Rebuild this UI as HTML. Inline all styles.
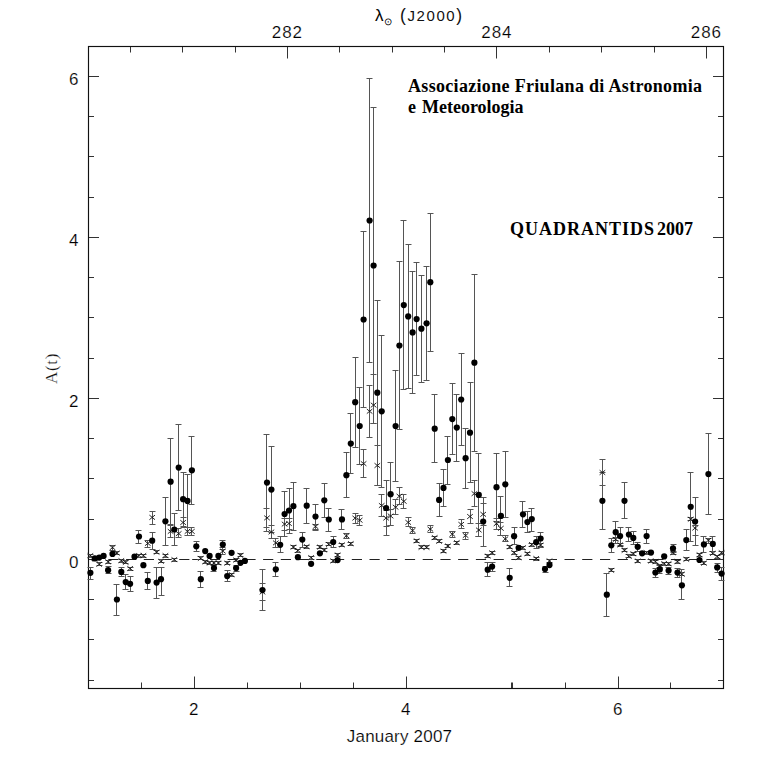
<!DOCTYPE html>
<html><head><meta charset="utf-8"><style>
html,body{margin:0;padding:0;background:#fff;}
svg{display:block;font-family:"Liberation Sans",sans-serif;}
.thin{stroke:#fff;stroke-width:0.18px;paint-order:fill;}
</style></head><body>
<svg width="764" height="770" viewBox="0 0 764 770">
<rect width="764" height="770" fill="#fff"/>
<path d="M141.5 688.5V682.5M194.5 688.5V676.5M247.5 688.5V682.5M300.5 688.5V682.5M353.5 688.5V682.5M406.5 688.5V676.5M511.5 688.5V682.5M512.5 688.5V682.5M565.5 688.5V682.5M618.5 688.5V676.5M670.5 688.5V682.5M130.5 46.5V52.5M182.5 46.5V52.5M235.5 46.5V52.5M287.5 46.5V58.5M339.5 46.5V52.5M392.5 46.5V52.5M444.5 46.5V52.5M496.5 46.5V58.5M549.5 46.5V52.5M601.5 46.5V52.5M654.5 46.5V52.5M706.5 46.5V58.5M88.5 680.5H94.0M723.5 680.5H718.0M88.5 639.5H94.0M723.5 639.5H718.0M88.5 599.5H94.0M723.5 599.5H718.0M88.5 559.5H99.0M723.5 559.5H713.0M88.5 519.5H94.0M723.5 519.5H718.0M88.5 478.5H94.0M723.5 478.5H718.0M88.5 438.5H94.0M723.5 438.5H718.0M88.5 398.5H99.0M723.5 398.5H713.0M88.5 358.5H94.0M723.5 358.5H718.0M88.5 317.5H94.0M723.5 317.5H718.0M88.5 277.5H94.0M723.5 277.5H718.0M88.5 237.5H99.0M723.5 237.5H713.0M88.5 197.5H94.0M723.5 197.5H718.0M88.5 156.5H94.0M723.5 156.5H718.0M88.5 116.5H94.0M723.5 116.5H718.0M88.5 76.5H99.0M723.5 76.5H713.0" stroke="#333" stroke-width="1" fill="none"/>
<rect x="88.5" y="46.5" width="635.0" height="642.0" fill="none" stroke="#111" stroke-width="1.15"/>
<path d="M90.6 559.5H100.8M108.3 559.5H118.5M126.1 559.5H136.3M143.8 559.5H154.0M161.5 559.5H171.7M179.2 559.5H189.4M192.2 559.5H202.4M209.9 559.5H220.1M227.6 559.5H237.8M245.4 559.5H255.6M263.1 559.5H273.3M280.8 559.5H291.0M298.6 559.5H308.8M316.3 559.5H326.5M334.0 559.5H344.2M351.8 559.5H362.0M369.5 559.5H379.7M387.2 559.5H397.4M404.9 559.5H415.1M422.7 559.5H432.9M440.4 559.5H450.6M458.1 559.5H468.3M475.9 559.5H486.1M493.6 559.5H503.8M511.3 559.5H521.5M529.1 559.5H539.3M546.8 559.5H557.0M564.5 559.5H574.7M582.2 559.5H592.4M600.0 559.5H610.2M617.7 559.5H627.9M635.4 559.5H645.6M653.2 559.5H663.4M670.9 559.5H681.1M688.6 559.5H698.8M706.4 559.5H716.6" stroke="#222" stroke-width="1" fill="none"/>
<text class="thin" x="193.7" y="715" text-anchor="middle" font-size="17" >2</text>
<text class="thin" x="405.7" y="715" text-anchor="middle" font-size="17" >4</text>
<text class="thin" x="617.7" y="715" text-anchor="middle" font-size="17" >6</text>
<text class="thin" x="287.4" y="38" text-anchor="middle" font-size="17" letter-spacing="1">282</text>
<text class="thin" x="496.9" y="38" text-anchor="middle" font-size="17" letter-spacing="1">284</text>
<text class="thin" x="706.4" y="38" text-anchor="middle" font-size="17" letter-spacing="1">286</text>
<text class="thin" x="78.5" y="85.0" text-anchor="end" font-size="17" >6</text>
<text class="thin" x="78.5" y="246.0" text-anchor="end" font-size="17" >4</text>
<text class="thin" x="78.5" y="407.0" text-anchor="end" font-size="17" >2</text>
<text class="thin" x="78.5" y="568.0" text-anchor="end" font-size="17" >0</text>
<text class="thin" x="399.5" y="742" text-anchor="middle" font-size="17" letter-spacing="0.2">January 2007</text>
<text class="thin" x="0" y="0" text-anchor="middle" font-size="17" font-family="Liberation Serif" letter-spacing="0.7" fill="#111" transform="translate(57,368.5) rotate(-90)">A(t)</text>
<text x="375" y="21" font-size="17">λ</text>
<text x="383.5" y="25" font-size="10">⊙</text>
<text x="400" y="20.8" font-size="15" letter-spacing="1.6" fill="#111"><tspan font-size="17.5">(</tspan>J2000<tspan font-size="17.5">)</tspan></text>
<g font-family="Liberation Serif" font-weight="bold" font-size="18"><text x="408" y="92" letter-spacing="0.32">Associazione Friulana di Astronomia</text><text x="408" y="112.5" word-spacing="1.5">e Meteorologia</text><text x="510" y="235" letter-spacing="1.0">QUADRANTIDS</text><text x="657" y="235">2007</text></g>
<path d="M90.5 554.5V557.5M87.5 554.5H93.5M87.5 557.5H93.5M94.5 557.5V560.5M91.5 557.5H97.5M91.5 560.5H97.5M99.5 562.5V565.5M96.5 562.5H102.5M96.5 565.5H102.5M108.5 560.5V563.5M105.5 560.5H111.5M105.5 563.5H111.5M112.5 545.5V550.5M109.5 545.5H115.5M109.5 550.5H115.5M116.5 551.5V554.5M113.5 551.5H119.5M113.5 554.5H119.5M121.5 559.5V562.5M118.5 559.5H124.5M118.5 562.5H124.5M125.5 560.5V563.5M122.5 560.5H128.5M122.5 563.5H128.5M130.5 567.5V570.5M127.5 567.5H133.5M127.5 570.5H133.5M138.5 554.5V557.5M135.5 554.5H141.5M135.5 557.5H141.5M143.5 554.5V557.5M140.5 554.5H146.5M140.5 557.5H146.5M147.5 540.5V547.5M144.5 540.5H150.5M144.5 547.5H150.5M152.5 511.5V524.5M149.5 511.5H155.5M149.5 524.5H155.5M156.5 550.5V553.5M153.5 550.5H159.5M153.5 553.5H159.5M161.5 559.5V562.5M158.5 559.5H164.5M158.5 562.5H164.5M165.5 554.5V557.5M162.5 554.5H168.5M162.5 557.5H168.5M170.5 524.5V537.5M167.5 524.5H173.5M167.5 537.5H173.5M174.5 558.5V561.5M171.5 558.5H177.5M171.5 561.5H177.5M178.5 528.5V537.5M175.5 528.5H181.5M175.5 537.5H181.5M183.5 517.5V527.5M180.5 517.5H186.5M180.5 527.5H186.5M187.5 527.5V535.5M184.5 527.5H190.5M184.5 535.5H190.5M191.5 527.5V535.5M188.5 527.5H194.5M188.5 535.5H194.5M200.5 556.5V559.5M197.5 556.5H203.5M197.5 559.5H203.5M205.5 560.5V563.5M202.5 560.5H208.5M202.5 563.5H208.5M209.5 561.5V564.5M206.5 561.5H212.5M206.5 564.5H212.5M213.5 561.5V564.5M210.5 561.5H216.5M210.5 564.5H216.5M218.5 561.5V564.5M215.5 561.5H221.5M215.5 564.5H221.5M222.5 547.5V554.5M219.5 547.5H225.5M219.5 554.5H225.5M227.5 561.5V564.5M224.5 561.5H230.5M224.5 564.5H230.5M231.5 573.5V576.5M228.5 573.5H234.5M228.5 576.5H234.5M236.5 558.5V561.5M233.5 558.5H239.5M233.5 561.5H239.5M240.5 553.5V556.5M237.5 553.5H243.5M237.5 556.5H243.5M262.5 583.5V600.5M259.5 583.5H265.5M259.5 600.5H265.5M266.5 508.5V527.5M263.5 508.5H269.5M263.5 527.5H269.5M271.5 525.5V538.5M268.5 525.5H274.5M268.5 538.5H274.5M275.5 538.5V547.5M272.5 538.5H278.5M272.5 547.5H278.5M284.5 518.5V530.5M281.5 518.5H287.5M281.5 530.5H287.5M289.5 518.5V529.5M286.5 518.5H292.5M286.5 529.5H292.5M293.5 545.5V548.5M290.5 545.5H296.5M290.5 548.5H296.5M297.5 549.5V552.5M294.5 549.5H300.5M294.5 552.5H300.5M306.5 545.5V548.5M303.5 545.5H309.5M303.5 548.5H309.5M311.5 556.5V559.5M308.5 556.5H314.5M308.5 559.5H314.5M315.5 524.5V530.5M312.5 524.5H318.5M312.5 530.5H318.5M319.5 545.5V548.5M316.5 545.5H322.5M316.5 548.5H322.5M324.5 548.5V551.5M321.5 548.5H327.5M321.5 551.5H327.5M328.5 542.5V545.5M325.5 542.5H331.5M325.5 545.5H331.5M333.5 559.5V562.5M330.5 559.5H336.5M330.5 562.5H336.5M337.5 553.5V556.5M334.5 553.5H340.5M334.5 556.5H340.5M341.5 543.5V546.5M338.5 543.5H344.5M338.5 546.5H344.5M346.5 533.5V538.5M343.5 533.5H349.5M343.5 538.5H349.5M350.5 542.5V545.5M347.5 542.5H353.5M347.5 545.5H353.5M355.5 513.5V523.5M352.5 513.5H358.5M352.5 523.5H358.5M359.5 515.5V525.5M356.5 515.5H362.5M356.5 525.5H362.5M363.5 449.5V477.5M360.5 449.5H366.5M360.5 477.5H366.5M369.5 385.5V437.5M366.5 385.5H372.5M366.5 437.5H372.5M373.5 374.5V423.5M370.5 374.5H376.5M370.5 423.5H376.5M377.5 445.5V485.5M374.5 445.5H380.5M374.5 485.5H380.5M381.5 494.5V516.5M378.5 494.5H384.5M378.5 516.5H384.5M386.5 510.5V526.5M383.5 510.5H389.5M383.5 526.5H389.5M390.5 509.5V525.5M387.5 509.5H393.5M387.5 525.5H393.5M395.5 499.5V514.5M392.5 499.5H398.5M392.5 514.5H398.5M399.5 487.5V504.5M396.5 487.5H402.5M396.5 504.5H402.5M403.5 494.5V508.5M400.5 494.5H406.5M400.5 508.5H406.5M408.5 517.5V526.5M405.5 517.5H411.5M405.5 526.5H411.5M412.5 527.5V533.5M409.5 527.5H415.5M409.5 533.5H415.5M416.5 539.5V542.5M413.5 539.5H419.5M413.5 542.5H419.5M421.5 545.5V548.5M418.5 545.5H424.5M418.5 548.5H424.5M426.5 545.5V548.5M423.5 545.5H429.5M423.5 548.5H429.5M430.5 525.5V532.5M427.5 525.5H433.5M427.5 532.5H433.5M434.5 536.5V539.5M431.5 536.5H437.5M431.5 539.5H437.5M439.5 539.5V542.5M436.5 539.5H442.5M436.5 542.5H442.5M443.5 549.5V552.5M440.5 549.5H446.5M440.5 552.5H446.5M447.5 544.5V547.5M444.5 544.5H450.5M444.5 547.5H450.5M452.5 531.5V537.5M449.5 531.5H455.5M449.5 537.5H455.5M456.5 541.5V544.5M453.5 541.5H459.5M453.5 544.5H459.5M461.5 519.5V528.5M458.5 519.5H464.5M458.5 528.5H464.5M465.5 532.5V539.5M462.5 532.5H468.5M462.5 539.5H468.5M470.5 509.5V523.5M467.5 509.5H473.5M467.5 523.5H473.5M474.5 480.5V506.5M471.5 480.5H477.5M471.5 506.5H477.5M478.5 523.5V536.5M475.5 523.5H481.5M475.5 536.5H481.5M483.5 503.5V525.5M480.5 503.5H486.5M480.5 525.5H486.5M487.5 554.5V557.5M484.5 554.5H490.5M484.5 557.5H490.5M492.5 551.5V554.5M489.5 551.5H495.5M489.5 554.5H495.5M496.5 518.5V529.5M493.5 518.5H499.5M493.5 529.5H499.5M500.5 522.5V535.5M497.5 522.5H503.5M497.5 535.5H503.5M505.5 535.5V541.5M502.5 535.5H508.5M502.5 541.5H508.5M509.5 545.5V548.5M506.5 545.5H512.5M506.5 548.5H512.5M514.5 551.5V554.5M511.5 551.5H517.5M511.5 554.5H517.5M518.5 556.5V559.5M515.5 556.5H521.5M515.5 559.5H521.5M522.5 546.5V549.5M519.5 546.5H525.5M519.5 549.5H525.5M527.5 552.5V555.5M524.5 552.5H530.5M524.5 555.5H530.5M531.5 543.5V546.5M528.5 543.5H534.5M528.5 546.5H534.5M536.5 557.5V560.5M533.5 557.5H539.5M533.5 560.5H539.5M540.5 543.5V546.5M537.5 543.5H543.5M537.5 546.5H543.5M549.5 559.5V562.5M546.5 559.5H552.5M546.5 562.5H552.5M602.5 459.5V485.5M599.5 459.5H605.5M599.5 485.5H605.5M611.5 568.5V571.5M608.5 568.5H614.5M608.5 571.5H614.5M615.5 537.5V540.5M612.5 537.5H618.5M612.5 540.5H618.5M620.5 543.5V546.5M617.5 543.5H623.5M617.5 546.5H623.5M624.5 548.5V551.5M621.5 548.5H627.5M621.5 551.5H627.5M628.5 554.5V557.5M625.5 554.5H631.5M625.5 557.5H631.5M633.5 552.5V555.5M630.5 552.5H636.5M630.5 555.5H636.5M637.5 559.5V562.5M634.5 559.5H640.5M634.5 562.5H640.5M646.5 551.5V554.5M643.5 551.5H649.5M643.5 554.5H649.5M650.5 559.5V562.5M647.5 559.5H653.5M647.5 562.5H653.5M655.5 560.5V563.5M652.5 560.5H658.5M652.5 563.5H658.5M659.5 564.5V567.5M656.5 564.5H662.5M656.5 567.5H662.5M664.5 562.5V565.5M661.5 562.5H667.5M661.5 565.5H667.5M668.5 562.5V565.5M665.5 562.5H671.5M665.5 565.5H671.5M673.5 551.5V554.5M670.5 551.5H676.5M670.5 554.5H676.5M677.5 560.5V563.5M674.5 560.5H680.5M674.5 563.5H680.5M681.5 572.5V575.5M678.5 572.5H684.5M678.5 575.5H684.5M686.5 557.5V560.5M683.5 557.5H689.5M683.5 560.5H689.5M690.5 517.5V520.5M687.5 517.5H693.5M687.5 520.5H693.5M695.5 525.5V535.5M692.5 525.5H698.5M692.5 535.5H698.5M699.5 553.5V556.5M696.5 553.5H702.5M696.5 556.5H702.5M703.5 561.5V564.5M700.5 561.5H706.5M700.5 564.5H706.5M708.5 538.5V543.5M705.5 538.5H711.5M705.5 543.5H711.5M712.5 551.5V554.5M709.5 551.5H715.5M709.5 554.5H715.5M717.5 555.5V558.5M714.5 555.5H720.5M714.5 558.5H720.5M721.5 551.5V554.5M718.5 551.5H724.5M718.5 554.5H724.5M90.5 567.5V579.5M87.5 567.5H93.5M87.5 579.5H93.5M108.5 566.5V573.5M105.5 566.5H111.5M105.5 573.5H111.5M116.5 584.5V615.5M113.5 584.5H119.5M113.5 615.5H119.5M121.5 567.5V576.5M118.5 567.5H124.5M118.5 576.5H124.5M125.5 574.5V589.5M122.5 574.5H128.5M122.5 589.5H128.5M130.5 576.5V591.5M127.5 576.5H133.5M127.5 591.5H133.5M138.5 530.5V543.5M135.5 530.5H141.5M135.5 543.5H141.5M147.5 572.5V589.5M144.5 572.5H150.5M144.5 589.5H150.5M152.5 532.5V549.5M149.5 532.5H155.5M149.5 549.5H155.5M156.5 567.5V598.5M153.5 567.5H159.5M153.5 598.5H159.5M161.5 567.5V595.5M158.5 567.5H164.5M158.5 595.5H164.5M165.5 497.5V545.5M162.5 497.5H168.5M162.5 545.5H168.5M170.5 438.5V525.5M167.5 438.5H173.5M167.5 525.5H173.5M174.5 513.5V545.5M171.5 513.5H177.5M171.5 545.5H177.5M178.5 424.5V510.5M175.5 424.5H181.5M175.5 510.5H181.5M183.5 472.5V526.5M180.5 472.5H186.5M180.5 526.5H186.5M187.5 474.5V527.5M184.5 474.5H190.5M184.5 527.5H190.5M191.5 436.5V504.5M188.5 436.5H194.5M188.5 504.5H194.5M196.5 541.5V551.5M193.5 541.5H199.5M193.5 551.5H199.5M200.5 571.5V587.5M197.5 571.5H203.5M197.5 587.5H203.5M213.5 565.5V571.5M210.5 565.5H216.5M210.5 571.5H216.5M222.5 540.5V549.5M219.5 540.5H225.5M219.5 549.5H225.5M227.5 570.5V581.5M224.5 570.5H230.5M224.5 581.5H230.5M236.5 565.5V571.5M233.5 565.5H239.5M233.5 571.5H239.5M262.5 569.5V610.5M259.5 569.5H265.5M259.5 610.5H265.5M266.5 434.5V531.5M263.5 434.5H269.5M263.5 531.5H269.5M271.5 446.5V532.5M268.5 446.5H274.5M268.5 532.5H274.5M275.5 562.5V576.5M272.5 562.5H278.5M272.5 576.5H278.5M280.5 536.5V552.5M277.5 536.5H283.5M277.5 552.5H283.5M284.5 491.5V536.5M281.5 491.5H287.5M281.5 536.5H287.5M289.5 488.5V533.5M286.5 488.5H292.5M286.5 533.5H292.5M293.5 482.5V530.5M290.5 482.5H296.5M290.5 530.5H296.5M302.5 532.5V547.5M299.5 532.5H305.5M299.5 547.5H305.5M306.5 488.5V523.5M303.5 488.5H309.5M303.5 523.5H309.5M315.5 504.5V529.5M312.5 504.5H318.5M312.5 529.5H318.5M324.5 483.5V517.5M321.5 483.5H327.5M321.5 517.5H327.5M328.5 508.5V531.5M325.5 508.5H331.5M325.5 531.5H331.5M333.5 536.5V547.5M330.5 536.5H336.5M330.5 547.5H336.5M341.5 509.5V529.5M338.5 509.5H344.5M338.5 529.5H344.5M346.5 452.5V497.5M343.5 452.5H349.5M343.5 497.5H349.5M350.5 413.5V473.5M347.5 413.5H353.5M347.5 473.5H353.5M355.5 357.5V447.5M352.5 357.5H358.5M352.5 447.5H358.5M359.5 387.5V464.5M356.5 387.5H362.5M356.5 464.5H362.5M363.5 231.5V407.5M360.5 231.5H366.5M360.5 407.5H366.5M369.5 78.5V362.5M366.5 78.5H372.5M366.5 362.5H372.5M373.5 107.5V423.5M370.5 107.5H376.5M370.5 423.5H376.5M377.5 300.5V485.5M374.5 300.5H380.5M374.5 485.5H380.5M381.5 335.5V487.5M378.5 335.5H384.5M378.5 487.5H384.5M386.5 480.5V535.5M383.5 480.5H389.5M383.5 535.5H389.5M390.5 462.5V525.5M387.5 462.5H393.5M387.5 525.5H393.5M395.5 370.5V481.5M392.5 370.5H398.5M392.5 481.5H398.5M399.5 261.5V429.5M396.5 261.5H402.5M396.5 429.5H402.5M403.5 220.5V389.5M400.5 220.5H406.5M400.5 389.5H406.5M408.5 244.5V388.5M405.5 244.5H411.5M405.5 388.5H411.5M412.5 271.5V393.5M409.5 271.5H415.5M409.5 393.5H415.5M416.5 262.5V375.5M413.5 262.5H419.5M413.5 375.5H419.5M421.5 275.5V382.5M418.5 275.5H424.5M418.5 382.5H424.5M426.5 266.5V380.5M423.5 266.5H429.5M423.5 380.5H429.5M430.5 213.5V351.5M427.5 213.5H433.5M427.5 351.5H433.5M434.5 394.5V462.5M431.5 394.5H437.5M431.5 462.5H437.5M439.5 483.5V516.5M436.5 483.5H442.5M436.5 516.5H442.5M443.5 469.5V506.5M440.5 469.5H446.5M440.5 506.5H446.5M447.5 436.5V484.5M444.5 436.5H450.5M444.5 484.5H450.5M452.5 383.5V454.5M449.5 383.5H455.5M449.5 454.5H455.5M456.5 394.5V461.5M453.5 394.5H459.5M453.5 461.5H459.5M461.5 353.5V445.5M458.5 353.5H464.5M458.5 445.5H464.5M465.5 428.5V488.5M462.5 428.5H468.5M462.5 488.5H468.5M470.5 382.5V482.5M467.5 382.5H473.5M467.5 482.5H473.5M474.5 274.5V451.5M471.5 274.5H477.5M471.5 451.5H477.5M478.5 453.5V536.5M475.5 453.5H481.5M475.5 536.5H481.5M483.5 497.5V546.5M480.5 497.5H486.5M480.5 546.5H486.5M487.5 562.5V576.5M484.5 562.5H490.5M484.5 576.5H490.5M492.5 562.5V571.5M489.5 562.5H495.5M489.5 571.5H495.5M496.5 453.5V521.5M493.5 453.5H499.5M493.5 521.5H499.5M500.5 496.5V535.5M497.5 496.5H503.5M497.5 535.5H503.5M505.5 451.5V517.5M502.5 451.5H508.5M502.5 517.5H508.5M509.5 568.5V586.5M506.5 568.5H512.5M506.5 586.5H512.5M514.5 527.5V544.5M511.5 527.5H517.5M511.5 544.5H517.5M522.5 501.5V527.5M519.5 501.5H525.5M519.5 527.5H525.5M527.5 511.5V532.5M524.5 511.5H530.5M524.5 532.5H530.5M531.5 508.5V531.5M528.5 508.5H534.5M528.5 531.5H534.5M536.5 536.5V548.5M533.5 536.5H539.5M533.5 548.5H539.5M540.5 532.5V547.5M537.5 532.5H543.5M537.5 547.5H543.5M545.5 566.5V572.5M542.5 566.5H548.5M542.5 572.5H548.5M602.5 472.5V529.5M599.5 472.5H605.5M599.5 529.5H605.5M606.5 573.5V616.5M603.5 573.5H609.5M603.5 616.5H609.5M611.5 538.5V552.5M608.5 538.5H614.5M608.5 552.5H614.5M615.5 521.5V543.5M612.5 521.5H618.5M612.5 543.5H618.5M620.5 527.5V545.5M617.5 527.5H623.5M617.5 545.5H623.5M624.5 482.5V518.5M621.5 482.5H627.5M621.5 518.5H627.5M628.5 527.5V541.5M625.5 527.5H631.5M625.5 541.5H631.5M633.5 531.5V544.5M630.5 531.5H636.5M630.5 544.5H636.5M637.5 542.5V551.5M634.5 542.5H640.5M634.5 551.5H640.5M646.5 529.5V543.5M643.5 529.5H649.5M643.5 543.5H649.5M655.5 568.5V577.5M652.5 568.5H658.5M652.5 577.5H658.5M659.5 565.5V573.5M656.5 565.5H662.5M656.5 573.5H662.5M668.5 567.5V574.5M665.5 567.5H671.5M665.5 574.5H671.5M673.5 544.5V552.5M670.5 544.5H676.5M670.5 552.5H676.5M677.5 568.5V577.5M674.5 568.5H680.5M674.5 577.5H680.5M681.5 569.5V599.5M678.5 569.5H684.5M678.5 599.5H684.5M686.5 529.5V550.5M683.5 529.5H689.5M683.5 550.5H689.5M690.5 472.5V541.5M687.5 472.5H693.5M687.5 541.5H693.5M695.5 497.5V545.5M692.5 497.5H698.5M692.5 545.5H698.5M703.5 536.5V552.5M700.5 536.5H706.5M700.5 552.5H706.5M708.5 433.5V514.5M705.5 433.5H711.5M705.5 514.5H711.5M712.5 536.5V551.5M709.5 536.5H715.5M709.5 551.5H715.5M717.5 563.5V572.5M714.5 563.5H720.5M714.5 572.5H720.5M721.5 567.5V580.5M718.5 567.5H724.5M718.5 580.5H724.5" stroke="#555" stroke-width="1" fill="none"/>
<path d="M87.6 553.3L93.2 557.9M87.6 557.9L93.2 553.3M92.0 556.7L97.6 561.3M92.0 561.3L97.6 556.7M96.4 562.0L102.0 566.6M96.4 566.6L102.0 562.0M105.3 559.5L110.9 564.1M105.3 564.1L110.9 559.5M109.7 545.3L115.3 549.9M109.7 549.9L115.3 545.3M114.1 550.8L119.7 555.4M114.1 555.4L119.7 550.8M118.5 558.3L124.1 562.9M118.5 562.9L124.1 558.3M122.9 560.1L128.5 564.7M122.9 564.7L128.5 560.1M127.3 566.2L132.9 570.8M127.3 570.8L132.9 566.2M136.2 553.2L141.8 557.8M136.2 557.8L141.8 553.2M140.6 553.2L146.2 557.8M140.6 557.8L146.2 553.2M145.0 541.1L150.6 545.7M145.0 545.7L150.6 541.1M149.4 515.1L155.0 519.7M149.4 519.7L155.0 515.1M153.8 549.9L159.4 554.5M153.8 554.5L159.4 549.9M158.2 559.0L163.8 563.6M158.2 563.6L163.8 559.0M162.6 553.2L168.2 557.8M162.6 557.8L168.2 553.2M167.8 529.1L173.4 533.7M167.8 533.7L173.4 529.1M171.5 557.3L177.1 561.9M171.5 561.9L177.1 557.3M175.9 531.3L181.5 535.9M175.9 535.9L181.5 531.3M180.3 520.2L185.9 524.8M180.3 524.8L185.9 520.2M184.7 529.1L190.3 533.7M184.7 533.7L190.3 529.1M189.1 529.1L194.7 533.7M189.1 533.7L194.7 529.1M197.9 556.1L203.6 560.7M197.9 560.7L203.6 556.1M202.4 559.5L208.0 564.1M202.4 564.1L208.0 559.5M206.8 560.7L212.4 565.3M206.8 565.3L212.4 560.7M211.2 560.7L216.8 565.3M211.2 565.3L216.8 560.7M215.6 560.7L221.2 565.3M215.6 565.3L221.2 560.7M220.0 548.8L225.6 553.4M220.0 553.4L225.6 548.8M224.4 560.9L230.0 565.5M224.4 565.5L230.0 560.9M228.8 572.3L234.4 576.9M228.8 576.9L234.4 572.3M233.3 557.7L238.9 562.3M233.3 562.3L238.9 557.7M237.7 553.1L243.3 557.7M237.7 557.7L243.3 553.1M259.7 589.7L265.3 594.3M259.7 594.3L265.3 589.7M264.2 515.6L269.8 520.2M264.2 520.2L269.8 515.6M268.6 529.7L274.2 534.3M268.6 534.3L274.2 529.7M273.0 540.6L278.6 545.2M273.0 545.2L278.6 540.6M281.8 521.8L287.4 526.4M281.8 526.4L287.4 521.8M286.2 521.2L291.8 525.8M286.2 525.8L291.8 521.2M290.6 544.8L296.2 549.4M290.6 549.4L296.2 544.8M295.1 548.2L300.7 552.8M295.1 552.8L300.7 548.2M303.9 544.3L309.5 548.9M303.9 548.9L309.5 544.3M308.3 555.3L313.9 559.9M308.3 559.9L313.9 555.3M312.7 524.2L318.3 528.8M312.7 528.8L318.3 524.2M317.1 544.8L322.7 549.4M317.1 549.4L322.7 544.8M321.5 547.7L327.1 552.3M321.5 552.3L327.1 547.7M326.0 542.1L331.6 546.7M326.0 546.7L331.6 542.1M330.4 558.6L336.0 563.2M330.4 563.2L336.0 558.6M334.8 552.7L340.4 557.3M334.8 557.3L340.4 552.7M339.2 542.6L344.8 547.2M339.2 547.2L344.8 542.6M343.6 533.5L349.2 538.1M343.6 538.1L349.2 533.5M348.0 541.3L353.6 545.9M348.0 545.9L353.6 541.3M352.4 515.8L358.0 520.4M352.4 520.4L358.0 515.8M356.9 517.9L362.5 522.5M356.9 522.5L362.5 517.9M360.8 461.3L366.4 465.9M360.8 465.9L366.4 461.3M366.8 409.0L372.4 413.6M366.8 413.6L372.4 409.0M370.8 402.8L376.4 407.4M370.8 407.4L376.4 402.8M374.5 463.2L380.1 467.8M374.5 467.8L380.1 463.2M378.9 503.2L384.5 507.8M378.9 507.8L384.5 503.2M383.3 515.8L388.9 520.4M383.3 520.4L388.9 515.8M387.8 513.7L393.4 518.3M387.8 518.3L393.4 513.7M392.8 504.9L398.4 509.5M392.8 509.5L398.4 504.9M396.6 493.9L402.2 498.5M396.6 498.5L402.2 493.9M401.0 499.0L406.6 503.6M401.0 503.6L406.6 499.0M405.4 520.1L411.0 524.7M405.4 524.7L411.0 520.1M409.8 528.2L415.4 532.8M409.8 532.8L415.4 528.2M413.8 538.6L419.4 543.2M413.8 543.2L419.4 538.6M418.6 545.1L424.2 549.7M418.6 549.7L424.2 545.1M423.8 545.1L429.4 549.7M423.8 549.7L429.4 545.1M427.5 526.8L433.1 531.4M427.5 531.4L433.1 526.8M431.9 535.3L437.5 539.9M431.9 539.9L437.5 535.3M436.3 539.0L441.9 543.6M436.3 543.6L441.9 539.0M440.7 548.8L446.3 553.4M440.7 553.4L446.3 548.8M445.1 543.7L450.7 548.3M445.1 548.3L450.7 543.7M449.5 531.9L455.1 536.5M449.5 536.5L455.1 531.9M454.0 540.3L459.6 544.9M454.0 544.9L459.6 540.3M458.4 522.1L464.0 526.7M458.4 526.7L464.0 522.1M462.8 533.2L468.4 537.8M462.8 537.8L468.4 533.2M467.2 514.2L472.8 518.8M467.2 518.8L472.8 514.2M471.6 491.3L477.2 495.9M471.6 495.9L477.2 491.3M476.0 527.7L481.6 532.3M476.0 532.3L481.6 527.7M480.4 512.0L486.0 516.6M480.4 516.6L486.0 512.0M484.9 553.8L490.5 558.4M484.9 558.4L490.5 553.8M489.3 550.5L494.9 555.1M489.3 555.1L494.9 550.5M493.7 521.4L499.3 526.0M493.7 526.0L499.3 521.4M498.1 526.0L503.7 530.6M498.1 530.6L503.7 526.0M502.5 536.6L508.1 541.2M502.5 541.2L508.1 536.6M506.9 544.6L512.5 549.2M506.9 549.2L512.5 544.6M511.3 550.3L516.9 554.9M511.3 554.9L516.9 550.3M515.8 555.3L521.4 559.9M515.8 559.9L521.4 555.3M520.2 545.4L525.8 550.0M520.2 550.0L525.8 545.4M524.6 551.3L530.2 555.9M524.6 555.9L530.2 551.3M529.0 542.2L534.6 546.8M529.0 546.8L534.6 542.2M533.4 556.2L539.0 560.8M533.4 560.8L539.0 556.2M537.8 542.8L543.4 547.4M537.8 547.4L543.4 542.8M546.7 558.6L552.3 563.2M546.7 563.2L552.3 558.6M599.6 470.2L605.2 474.8M599.6 474.8L605.2 470.2M608.5 568.0L614.1 572.6M608.5 572.6L614.1 568.0M612.9 537.1L618.5 541.7M612.9 541.7L618.5 537.1M617.3 542.6L622.9 547.2M617.3 547.2L622.9 542.6M621.7 548.1L627.3 552.7M621.7 552.7L627.3 548.1M626.1 554.1L631.7 558.7M626.1 558.7L631.7 554.1M630.5 551.5L636.1 556.1M630.5 556.1L636.1 551.5M634.9 558.7L640.5 563.3M634.9 563.3L640.5 558.7M643.8 550.3L649.4 554.9M643.8 554.9L649.4 550.3M648.2 558.7L653.8 563.3M648.2 563.3L653.8 558.7M652.6 559.2L658.2 563.8M652.6 563.8L658.2 559.2M657.0 563.6L662.6 568.2M657.0 568.2L662.6 563.6M661.4 561.4L667.0 566.0M661.4 566.0L667.0 561.4M665.8 561.4L671.4 566.0M665.8 566.0L671.4 561.4M670.2 550.4L675.8 555.0M670.2 555.0L675.8 550.4M674.7 559.2L680.3 563.8M674.7 563.8L680.3 559.2M679.1 571.9L684.7 576.5M679.1 576.5L684.7 571.9M683.5 557.0L689.1 561.6M683.5 561.6L689.1 557.0M687.9 516.9L693.5 521.5M687.9 521.5L693.5 516.9M692.3 525.8L697.9 530.4M692.3 530.4L697.9 525.8M696.7 552.5L702.3 557.1M696.7 557.1L702.3 552.5M701.1 560.9L706.7 565.5M701.1 565.5L706.7 560.9M705.6 538.0L711.2 542.6M705.6 542.6L711.2 538.0M710.0 551.1L715.6 555.7M710.0 555.7L715.6 551.1M714.4 554.2L720.0 558.8M714.4 558.8L720.0 554.2M718.8 550.4L724.4 555.0M718.8 555.0L724.4 550.4" stroke="#111" stroke-width="0.9" fill="none"/>
<g fill="#000"><circle cx="90.4" cy="572.8" r="3.1"/><circle cx="94.8" cy="558.4" r="3.1"/><circle cx="99.2" cy="557.6" r="3.1"/><circle cx="103.6" cy="555.9" r="3.1"/><circle cx="108.1" cy="570.2" r="3.1"/><circle cx="112.5" cy="553.9" r="3.1"/><circle cx="116.9" cy="599.5" r="3.1"/><circle cx="121.3" cy="571.9" r="3.1"/><circle cx="125.7" cy="582.1" r="3.1"/><circle cx="130.1" cy="583.8" r="3.1"/><circle cx="134.5" cy="556.7" r="3.1"/><circle cx="139.0" cy="536.5" r="3.1"/><circle cx="143.4" cy="565.2" r="3.1"/><circle cx="147.8" cy="580.9" r="3.1"/><circle cx="152.2" cy="540.7" r="3.1"/><circle cx="156.6" cy="582.6" r="3.1"/><circle cx="161.0" cy="579.2" r="3.1"/><circle cx="165.4" cy="521.3" r="3.1"/><circle cx="170.6" cy="481.7" r="3.1"/><circle cx="174.3" cy="529.5" r="3.1"/><circle cx="178.7" cy="467.6" r="3.1"/><circle cx="183.1" cy="499.2" r="3.1"/><circle cx="187.5" cy="500.9" r="3.1"/><circle cx="191.9" cy="470.3" r="3.1"/><circle cx="196.3" cy="546.3" r="3.1"/><circle cx="200.8" cy="579.2" r="3.1"/><circle cx="205.2" cy="551.1" r="3.1"/><circle cx="209.6" cy="555.9" r="3.1"/><circle cx="214.0" cy="568.0" r="3.1"/><circle cx="218.4" cy="555.9" r="3.1"/><circle cx="222.8" cy="544.6" r="3.1"/><circle cx="227.2" cy="576.1" r="3.1"/><circle cx="231.6" cy="552.8" r="3.1"/><circle cx="236.1" cy="568.1" r="3.1"/><circle cx="240.5" cy="562.8" r="3.1"/><circle cx="244.9" cy="560.9" r="3.1"/><circle cx="262.5" cy="590.0" r="3.1"/><circle cx="267.0" cy="482.6" r="3.1"/><circle cx="271.4" cy="489.6" r="3.1"/><circle cx="275.8" cy="569.3" r="3.1"/><circle cx="280.2" cy="544.8" r="3.1"/><circle cx="284.6" cy="514.0" r="3.1"/><circle cx="289.0" cy="510.5" r="3.1"/><circle cx="293.4" cy="506.2" r="3.1"/><circle cx="297.9" cy="557.2" r="3.1"/><circle cx="302.3" cy="539.6" r="3.1"/><circle cx="306.7" cy="505.7" r="3.1"/><circle cx="311.1" cy="563.8" r="3.1"/><circle cx="315.5" cy="516.5" r="3.1"/><circle cx="319.9" cy="553.3" r="3.1"/><circle cx="324.3" cy="500.3" r="3.1"/><circle cx="328.8" cy="519.5" r="3.1"/><circle cx="333.2" cy="542.0" r="3.1"/><circle cx="337.6" cy="560.1" r="3.1"/><circle cx="342.0" cy="519.4" r="3.1"/><circle cx="346.4" cy="475.2" r="3.1"/><circle cx="350.8" cy="443.6" r="3.1"/><circle cx="355.2" cy="402.2" r="3.1"/><circle cx="359.7" cy="426.0" r="3.1"/><circle cx="363.6" cy="319.5" r="3.1"/><circle cx="369.6" cy="220.5" r="3.1"/><circle cx="373.6" cy="265.5" r="3.1"/><circle cx="377.3" cy="392.7" r="3.1"/><circle cx="381.7" cy="411.3" r="3.1"/><circle cx="386.1" cy="508.0" r="3.1"/><circle cx="390.6" cy="494.2" r="3.1"/><circle cx="395.6" cy="426.0" r="3.1"/><circle cx="399.4" cy="345.5" r="3.1"/><circle cx="403.8" cy="305.1" r="3.1"/><circle cx="408.2" cy="316.4" r="3.1"/><circle cx="412.6" cy="332.4" r="3.1"/><circle cx="416.6" cy="319.1" r="3.1"/><circle cx="421.4" cy="328.7" r="3.1"/><circle cx="426.6" cy="323.3" r="3.1"/><circle cx="430.3" cy="282.2" r="3.1"/><circle cx="434.7" cy="428.7" r="3.1"/><circle cx="439.1" cy="499.9" r="3.1"/><circle cx="443.5" cy="487.9" r="3.1"/><circle cx="447.9" cy="460.0" r="3.1"/><circle cx="452.3" cy="419.1" r="3.1"/><circle cx="456.8" cy="427.6" r="3.1"/><circle cx="461.2" cy="399.5" r="3.1"/><circle cx="465.6" cy="458.2" r="3.1"/><circle cx="470.0" cy="432.7" r="3.1"/><circle cx="474.4" cy="362.7" r="3.1"/><circle cx="478.8" cy="494.9" r="3.1"/><circle cx="483.2" cy="521.5" r="3.1"/><circle cx="487.7" cy="569.7" r="3.1"/><circle cx="492.1" cy="566.6" r="3.1"/><circle cx="496.5" cy="487.2" r="3.1"/><circle cx="500.9" cy="515.9" r="3.1"/><circle cx="505.3" cy="484.3" r="3.1"/><circle cx="509.7" cy="577.8" r="3.1"/><circle cx="514.1" cy="536.2" r="3.1"/><circle cx="518.6" cy="547.8" r="3.1"/><circle cx="523.0" cy="514.3" r="3.1"/><circle cx="527.4" cy="522.1" r="3.1"/><circle cx="531.8" cy="519.1" r="3.1"/><circle cx="536.2" cy="542.2" r="3.1"/><circle cx="540.6" cy="538.5" r="3.1"/><circle cx="545.0" cy="569.1" r="3.1"/><circle cx="549.5" cy="565.1" r="3.1"/><circle cx="602.4" cy="500.8" r="3.1"/><circle cx="606.8" cy="594.7" r="3.1"/><circle cx="611.3" cy="545.3" r="3.1"/><circle cx="615.7" cy="532.2" r="3.1"/><circle cx="620.1" cy="536.1" r="3.1"/><circle cx="624.5" cy="500.8" r="3.1"/><circle cx="628.9" cy="534.5" r="3.1"/><circle cx="633.3" cy="537.9" r="3.1"/><circle cx="637.7" cy="546.8" r="3.1"/><circle cx="642.1" cy="553.3" r="3.1"/><circle cx="646.6" cy="536.1" r="3.1"/><circle cx="651.0" cy="552.6" r="3.1"/><circle cx="655.4" cy="572.5" r="3.1"/><circle cx="659.8" cy="569.4" r="3.1"/><circle cx="664.2" cy="556.4" r="3.1"/><circle cx="668.6" cy="570.6" r="3.1"/><circle cx="673.0" cy="548.3" r="3.1"/><circle cx="677.5" cy="572.6" r="3.1"/><circle cx="681.9" cy="585.3" r="3.1"/><circle cx="686.3" cy="540.1" r="3.1"/><circle cx="690.7" cy="506.8" r="3.1"/><circle cx="695.1" cy="521.5" r="3.1"/><circle cx="699.5" cy="560.0" r="3.1"/><circle cx="703.9" cy="544.4" r="3.1"/><circle cx="708.4" cy="474.1" r="3.1"/><circle cx="712.8" cy="543.9" r="3.1"/><circle cx="717.2" cy="567.4" r="3.1"/><circle cx="721.6" cy="573.6" r="3.1"/></g>
</svg></body></html>
